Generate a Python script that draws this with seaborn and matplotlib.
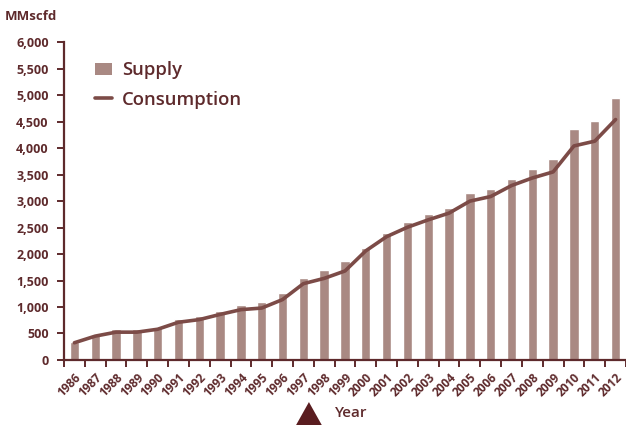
import numpy as np
import pandas as pd
import seaborn as sns
import matplotlib.pyplot as plt
from matplotlib.patches import Polygon, Patch
from matplotlib.lines import Line2D
from matplotlib.ticker import FuncFormatter

years = [str(y) for y in range(1986, 2013)]
supply = [344, 480, 580, 580, 622, 780, 838, 932, 1038, 1100, 1265, 1555,
          1690, 1860, 2107, 2398, 2600, 2752, 2872, 3145, 3218, 3408, 3597,
          3795, 4368, 4505, 4948]
consumption = [325, 450, 525, 525, 580, 712, 762, 860, 950, 980, 1140, 1440,
               1540, 1680, 2060, 2328, 2505, 2645, 2772, 2998, 3085, 3292, 3435,
               3550, 4040, 4130, 4538]

df = pd.DataFrame({"Year": years, "Supply": supply, "Consumption": consumption})

text_col = "#5e2a2c"
bar_col = "#a98983"
line_col = "#7c4b47"

sns.set_style("white")
plt.rcParams["font.family"] = ["Open Sans", "DejaVu Sans"]

fig = plt.figure(figsize=(6.26, 4.25), dpi=100)
ax = fig.add_axes([0.1022, 0.153, 0.8978, 0.748])

sns.barplot(data=df, x="Year", y="Supply", color=bar_col, width=0.45,
            saturation=1, ax=ax)
sns.lineplot(x=np.arange(len(years)), y=df["Consumption"], color=line_col,
             linewidth=2.6, ax=ax)

ax.set_xlim(-0.5, len(years) - 0.5)
ax.set_ylim(0, 6000)
ax.set_yticks(np.arange(0, 6001, 500))
ax.yaxis.set_major_formatter(FuncFormatter(lambda v, p: f"{int(v):,}"))
ax.set_xlabel("")
ax.set_ylabel("")

for s in ["top", "right"]:
    ax.spines[s].set_visible(False)
for s in ["left", "bottom"]:
    ax.spines[s].set_color(text_col)
    ax.spines[s].set_linewidth(1.6)

ax.tick_params(axis="y", direction="out", length=5, width=1.4, color=text_col,
               labelcolor=text_col, labelsize=9, pad=6, left=True)
for t in ax.get_yticklabels():
    t.set_fontweight("bold")

# year labels at bar centres, tick marks at category boundaries
ax.set_xticks(np.arange(len(years)))
ax.set_xticklabels(years, rotation=45, ha="right", rotation_mode="anchor",
                   fontsize=8.6, fontweight="bold", color=text_col)
ax.tick_params(axis="x", which="major", length=0, pad=8)
ax.set_xticks(np.arange(-0.5, len(years), 1), minor=True)
ax.tick_params(axis="x", which="minor", direction="out", length=5, width=1.4,
               color=text_col, bottom=True)

handles = [Patch(facecolor=bar_col, edgecolor="none"),
           Line2D([0], [0], color=line_col, linewidth=2.6)]
leg = ax.legend(handles, ["Supply", "Consumption"], loc="upper left",
                bbox_to_anchor=(0.055, 0.94), frameon=False, fontsize=13.3,
                labelcolor=text_col, handlelength=0.95, handleheight=0.6,
                labelspacing=0.62, handletextpad=0.5, borderpad=0,
                borderaxespad=0)
for t in leg.get_texts():
    t.set_fontweight("semibold")

fig.text(0.008, 0.962, "MMscfd", fontsize=9.5, fontweight="bold",
         color=text_col, va="center", ha="left")
fig.text(0.535, 0.028, "Year", fontsize=11, fontweight="semibold",
         color=text_col, va="center", ha="left")
fig.add_artist(Polygon([[0.473, 0.0], [0.514, 0.0], [0.4935, 0.054]],
                       closed=True, transform=fig.transFigure,
                       facecolor="#5a1d20", edgecolor="none"))

fig.savefig("out.png", dpi=100)
